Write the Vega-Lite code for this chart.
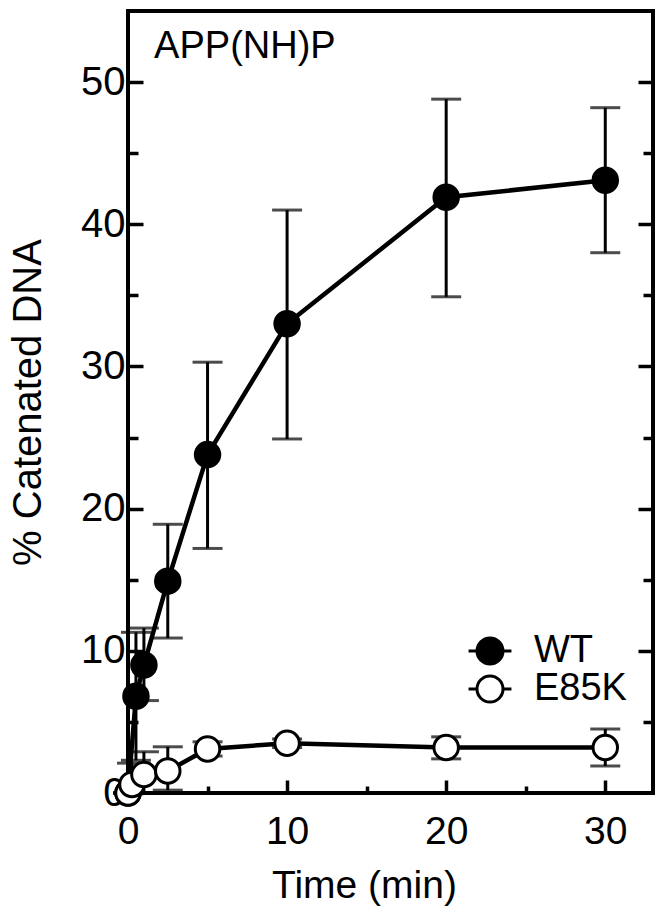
{
  "$schema": "https://vega.github.io/schema/vega-lite/v6.json",
  "width": 525,
  "height": 782,
  "autosize": {"type": "none"},
  "padding": {"left": 128, "top": 11, "right": 13, "bottom": 121},
  "background": "white",
  "view": {"stroke": "black", "strokeWidth": 4},
  "config": {
    "font": "Liberation Sans",
    "axis": {"labelFont": "Liberation Sans", "titleFont": "Liberation Sans", "labelColor": "black", "titleColor": "black", "tickColor": "black", "grid": false, "domain": false, "titleFontWeight": "normal", "tickWidth": 3.5},
    "legend": {"labelFont": "Liberation Sans", "labelColor": "black"}
  },
  "datasets": {
    "pts": [
      {"s": "WT", "t": 0, "v": 0, "lo": 0, "hi": 0},
      {"s": "WT", "t": 0.5, "v": 6.8, "lo": 2.3, "hi": 11.3},
      {"s": "WT", "t": 1, "v": 9.0, "lo": 6.5, "hi": 11.6},
      {"s": "WT", "t": 2.5, "v": 14.9, "lo": 10.9, "hi": 18.9},
      {"s": "WT", "t": 5, "v": 23.8, "lo": 17.2, "hi": 30.3},
      {"s": "WT", "t": 10, "v": 33.0, "lo": 24.9, "hi": 41.0},
      {"s": "WT", "t": 20, "v": 41.9, "lo": 34.9, "hi": 48.8},
      {"s": "WT", "t": 30, "v": 43.1, "lo": 38.0, "hi": 48.2},
      {"s": "E85K", "t": 0, "v": 0, "lo": 0, "hi": 0},
      {"s": "E85K", "t": 0.25, "v": 0.6, "lo": 0, "hi": 2.1},
      {"s": "E85K", "t": 1, "v": 1.3, "lo": 0, "hi": 2.9},
      {"s": "E85K", "t": 2.5, "v": 1.55, "lo": 0.2, "hi": 3.25},
      {"s": "E85K", "t": 5, "v": 3.1, "lo": 2.6, "hi": 3.6},
      {"s": "E85K", "t": 10, "v": 3.5, "lo": 3.2, "hi": 3.8},
      {"s": "E85K", "t": 20, "v": 3.2, "lo": 2.4, "hi": 3.95},
      {"s": "E85K", "t": 30, "v": 3.2, "lo": 1.9, "hi": 4.5}
    ],
    "note": [{"label": "APP(NH)P", "t": 1.64, "v": 51.7}]
  },
  "resolve": {"scale": {"x": "shared", "y": "shared"}, "axis": {"x": "independent", "y": "independent"}},
  "layer": [
    {
      "data": {"name": "pts"},
      "mark": {"type": "errorbar", "ticks": {"size": 30, "thickness": 3, "color": "black"}, "rule": {"strokeWidth": 3, "color": "black"}},
      "encoding": {
        "x": {"field": "t", "type": "quantitative", "scale": {"domain": [0, 33], "nice": false, "zero": false}, "axis": null},
        "y": {"field": "lo", "type": "quantitative", "scale": {"domain": [0, 55], "nice": false, "zero": false}, "axis": null},
        "y2": {"field": "hi"},
        "detail": {"field": "s"}
      }
    },
    {
      "data": {"name": "pts"},
      "mark": {"type": "line", "stroke": "black", "strokeWidth": 4.5},
      "encoding": {
        "x": {"field": "t", "type": "quantitative", "scale": {"domain": [0, 33], "nice": false, "zero": false},
          "axis": {"orient": "bottom", "values": [0, 5, 10, 15, 20, 25, 30], "labelExpr": "datum.value % 10 === 0 ? datum.label : ''",
            "tickSize": {"condition": {"test": "datum.value % 10 === 0", "value": -13}, "value": -7},
            "labelFontSize": 39, "labelPadding": 32, "labelBaseline": "top", "labelFlush": false,
            "title": "Time (min)", "titleFontSize": 39, "titleX": 236, "titleY": 104, "titleBaseline": "alphabetic"}},
        "y": {"field": "v", "type": "quantitative", "scale": {"domain": [0, 55], "nice": false, "zero": false},
          "axis": {"orient": "left", "values": [0, 5, 10, 15, 20, 25, 30, 35, 40, 45, 50], "labelExpr": "datum.value % 10 === 0 ? datum.label : ''",
            "tickSize": {"condition": {"test": "datum.value % 10 === 0", "value": -15}, "value": -10},
            "labelFontSize": 40, "labelPadding": 18, "labelBaseline": "middle", "labelFlush": false,
            "title": "% Catenated DNA", "titleFontSize": 40, "titleX": -88, "titleY": 391, "titleBaseline": "alphabetic", "titleAngle": -90}},
        "detail": {"field": "s"}
      }
    },
    {
      "data": {"name": "pts"},
      "mark": {"type": "point", "stroke": "black", "strokeWidth": 3, "size": 600, "opacity": 1},
      "encoding": {
        "x": {"field": "t", "type": "quantitative", "scale": {"domain": [0, 33], "nice": false, "zero": false}, "axis": null},
        "y": {"field": "v", "type": "quantitative", "scale": {"domain": [0, 55], "nice": false, "zero": false},
          "axis": {"orient": "right", "values": [5, 10, 15, 20, 25, 30, 35, 40, 45, 50], "labels": false, "title": null,
            "tickSize": {"condition": {"test": "datum.value % 10 === 0", "value": -15}, "value": -10}}},
        "fill": {"field": "s", "type": "nominal", "scale": {"domain": ["WT", "E85K"], "range": ["black", "white"]},
          "legend": {"title": null, "orient": "none", "legendX": 343, "legendY": 621,
            "symbolType": "M-1.65,0L-1,0M1,0L1.65,0M-1,0A1,1,0,1,0,1,0A1,1,0,1,0,-1,0Z",
            "symbolSize": 676, "symbolStrokeColor": "black", "symbolStrokeWidth": 3, "symbolOpacity": 1, "labelFontSize": 38, "labelOffset": 25, "rowPadding": -5,
            "encode": {"symbols": {"update": {"shape": {"value": "M-1.65,0L-1,0M1,0L1.65,0M-1,0A1,1,0,1,0,1,0A1,1,0,1,0,-1,0Z"}, "stroke": {"value": "black"}, "strokeWidth": {"value": 3}}}}}}
      }
    },
    {
      "data": {"name": "note"},
      "mark": {"type": "text", "align": "left", "baseline": "alphabetic", "fontSize": 38, "font": "Liberation Sans", "color": "black"},
      "encoding": {
        "x": {"field": "t", "type": "quantitative", "scale": {"domain": [0, 33], "nice": false, "zero": false}, "axis": null},
        "y": {"field": "v", "type": "quantitative", "scale": {"domain": [0, 55], "nice": false, "zero": false}, "axis": null},
        "text": {"field": "label"}
      }
    }
  ]
}
